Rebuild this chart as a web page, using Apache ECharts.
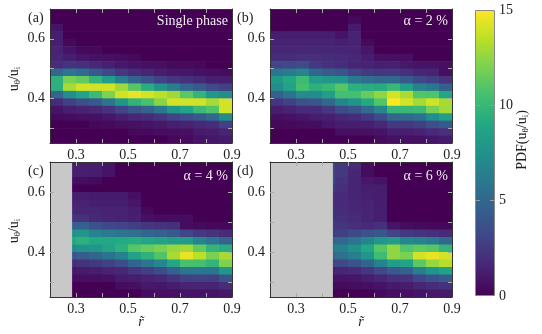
<!DOCTYPE html>
<html>
<head>
<meta charset="utf-8">
<script src="https://cdn.jsdelivr.net/npm/echarts@6/dist/echarts.min.js"></script>
<style>
html, body { margin: 0; padding: 0; background: #fff; }
#chart { width: 542px; height: 334px; }
</style>
</head>
<body>
<div id="chart"></div>
<script>
// bin centres of the PDF maps (x = r~, y = u_theta/u_i, top row first)
var xCenters = [0.225, 0.275, 0.325, 0.375, 0.425, 0.475, 0.525, 0.575, 0.625, 0.675, 0.725, 0.775, 0.825, 0.875];
var yCenters = [0.6875, 0.6625, 0.6375, 0.6125, 0.5875, 0.5625, 0.5375, 0.5125, 0.4875, 0.4625,
  0.4375, 0.4125, 0.3875, 0.3625, 0.3375, 0.3125, 0.2875, 0.2625];
var xBin = 0.05, yBin = 0.025;

// single phase
var pdfA = [
  [0, 0, 0, 0, 0, 0, 0, 0, 0, 0, 0, 0, 0, 0],
  [0, 0, 0, 0, 0, 0, 0, 0, 0, 0, 0, 0, 0, 0],
  [0.8, 0, 0, 0, 0, 0, 0, 0, 0, 0, 0, 0, 0, 0],
  [1.2, 0, 0, 0, 0, 0, 0, 0, 0, 0, 0, 0, 0, 0],
  [1.3, 0.3, 0, 0, 0, 0, 0, 0, 0, 0, 0, 0, 0, 0],
  [1.4, 0.8, 0.4, 0.3, 0, 0, 0, 0, 0, 0, 0, 0, 0, 0],
  [1.6, 1.3, 0.9, 0.7, 0.6, 0.5, 0.3, 0, 0, 0, 0, 0, 0, 0],
  [1.9, 2.2, 2.0, 1.7, 1.3, 1.0, 0.8, 0.7, 0.6, 0.4, 0.4, 0.3, 0, 0],
  [4.9, 5.8, 5.3, 4.2, 3.2, 2.4, 1.9, 1.6, 1.2, 1.0, 0.9, 0.7, 0.6, 0.5],
  [9.5, 11.9, 11.4, 9.8, 8.3, 6.3, 4.8, 3.8, 2.9, 2.4, 2.0, 1.7, 1.3, 1.2],
  [9.5, 13, 14, 14, 14, 12.8, 11, 9.3, 7.6, 6.3, 5.0, 4.2, 3.2, 2.8],
  [4.9, 7.3, 8.6, 10.1, 12.1, 14, 14.5, 14, 13.5, 12.8, 11.1, 9.8, 7.9, 7.3],
  [1.9, 2.8, 3.6, 4.2, 5.8, 7.9, 9.7, 10.6, 12.3, 14, 14, 14, 13, 14],
  [0.8, 1.2, 1.4, 1.7, 2.2, 3.0, 4.0, 4.7, 6.0, 7.9, 8.8, 10.1, 10.9, 14],
  [0.4, 0.5, 0.6, 0.7, 0.9, 1.3, 1.6, 1.8, 2.3, 3.0, 3.6, 4.2, 5.1, 7.3],
  [0, 0, 0, 0.3, 0.4, 0.6, 0.7, 0.8, 1.0, 1.3, 1.4, 1.7, 1.9, 2.8],
  [0, 0, 0, 0, 0, 0, 0.3, 0.4, 0.5, 0.6, 0.7, 1.1, 1.2, 1.5],
  [0, 0, 0, 0, 0, 0, 0, 0, 0, 0.3, 0.4, 0.8, 0.9, 1.1]
];

// alpha = 2 %
var pdfB = [
  [0, 0, 0, 0, 0, 0, 0, 0, 0, 0, 0, 0, 0, 0],
  [0, 0, 0, 0, 0, 0, 0.3, 0, 0, 0, 0, 0, 0, 0],
  [0, 0, 0, 0, 0, 0, 1.1, 0, 0, 0, 0, 0, 0, 0],
  [1.2, 1.3, 1.3, 1.3, 1.2, 0.8, 1.4, 0, 0, 0, 0, 0, 0, 0],
  [1.4, 1.4, 1.4, 1.4, 1.4, 1.3, 1.4, 0.4, 0, 0, 0, 0, 0, 0],
  [1.6, 1.6, 1.6, 1.6, 1.6, 1.5, 1.5, 0.9, 0, 0, 0, 0, 0, 0],
  [1.9, 1.9, 2.0, 2.0, 1.9, 1.8, 1.7, 1.2, 0.7, 0.6, 0.6, 0, 0, 0],
  [3.1, 3.2, 3.4, 2.5, 2.1, 1.9, 1.5, 1.4, 1.3, 1.3, 1.0, 0.8, 0.8, 0.6],
  [5.8, 6.2, 6.7, 5.0, 4.3, 4.0, 3.0, 2.6, 2.4, 2.5, 2.0, 1.6, 1.4, 0.6],
  [8.0, 9.0, 10.2, 8.2, 7.8, 7.7, 6.1, 5.4, 5.1, 5.1, 4.2, 3.2, 2.8, 2.2],
  [7.3, 8.7, 10.5, 9.5, 10, 11, 9.5, 9.3, 9.2, 10, 8.4, 6.6, 6.0, 4.5],
  [4.6, 5.7, 7.2, 7.2, 8.4, 10.5, 10.5, 11.5, 12.5, 14, 13.1, 10.9, 10.8, 8.8],
  [2.3, 2.9, 3.7, 4.0, 5.1, 6.8, 7.6, 9.1, 10.9, 15, 14, 13, 14, 13],
  [1.2, 1.4, 1.8, 1.8, 2.4, 3.4, 4.0, 5.2, 6.9, 10, 10, 10.1, 11.9, 12.9],
  [0.6, 0.7, 0.9, 1.2, 1.3, 1.7, 1.9, 2.5, 3.4, 5.1, 5.2, 5.6, 7.2, 8.5],
  [0.3, 0.4, 0.5, 0.5, 0.9, 1.2, 1.2, 1.3, 1.7, 2.5, 2.5, 2.8, 3.6, 4.2],
  [0, 0, 0, 0, 0, 0.6, 0.6, 0.7, 0.8, 1.3, 1.3, 1.4, 1.8, 2.1],
  [0, 0, 0, 0, 0, 0, 0, 0, 0.5, 0.7, 0.7, 0.7, 0.9, 1.1]
];

// alpha = 4 %
var pdfC = [
  [null, 1.2, 1.2, 1.2, 0.8, 0, 0, 0, 0, 0, 0, 0, 0, 0],
  [null, 1.2, 1.3, 1.2, 0.8, 0, 0, 0, 0, 0, 0, 0, 0, 0],
  [null, 0.5, 0.5, 0.4, 0, 0, 0, 0, 0, 0, 0, 0, 0, 0],
  [null, 0, 0, 0, 0, 0, 0, 0, 0, 0, 0, 0, 0, 0],
  [null, 1.2, 1.2, 1.1, 1.1, 1.1, 0.6, 0, 0, 0, 0, 0, 0, 0],
  [null, 1.4, 1.4, 1.3, 1.3, 1.3, 1.0, 0, 0, 0, 0, 0, 0, 0],
  [null, 1.7, 1.6, 1.5, 1.4, 1.4, 1.2, 0.3, 0, 0, 0, 0, 0, 0],
  [null, 2.2, 2.1, 1.7, 1.5, 1.4, 1.3, 0.7, 0.5, 0.5, 0.5, 0, 0, 0],
  [null, 4.5, 4.5, 3.7, 3.2, 3.0, 2.7, 2.4, 2.2, 2.0, 0.5, 0.4, 0.3, 0.3],
  [null, 7.5, 7.7, 6.6, 6.2, 5.8, 5.6, 5.0, 4.6, 4.2, 3.0, 2.5, 2.2, 1.8],
  [null, 9, 9.5, 9, 9, 9.1, 9.2, 8.9, 8.7, 8.3, 8.2, 6.8, 5.8, 4.8],
  [null, 7.0, 7.6, 7.8, 8.7, 9.5, 11, 11.5, 12, 12.6, 12.9, 11.3, 9.8, 9.3],
  [null, 3.9, 4.4, 5.0, 5.7, 6.6, 8.6, 9.6, 10.9, 13, 14.5, 13.5, 12, 13],
  [null, 1.9, 2.1, 2.5, 2.9, 3.5, 4.8, 5.8, 6.9, 8.9, 10.6, 10.5, 9.8, 12.1],
  [null, 1.0, 1.1, 1.2, 1.4, 1.7, 2.3, 2.8, 3.5, 4.6, 5.8, 5.9, 5.8, 7.8],
  [null, 0.5, 0.6, 0.6, 0.7, 1.1, 1.2, 1.4, 1.7, 2.2, 2.8, 2.9, 2.8, 3.9],
  [null, 0, 0, 0, 0, 0.5, 0.6, 1.0, 0.9, 1.2, 1.4, 1.5, 1.4, 1.9],
  [null, 0, 0, 0, 0, 0, 0, 0.5, 0.6, 0.6, 0.8, 0.8, 0.8, 1.0]
];

// alpha = 6 %
var pdfD = [
  [null, null, null, null, 3.2, 2.5, 1.8, 0.5, 0, 0, 0, 0, 0, 0],
  [null, null, null, null, 3.2, 2.5, 1.6, 0.5, 0, 0, 0, 0, 0, 0],
  [null, null, null, null, 3.2, 2.2, 1.5, 1.0, 0.8, 0, 0, 0, 0, 0],
  [null, null, null, null, 2.5, 2.0, 1.5, 1.2, 1.2, 0, 0, 0, 0, 0],
  [null, null, null, null, 2.0, 1.8, 1.5, 1.3, 1.2, 0, 0, 0, 0, 0],
  [null, null, null, null, 2.0, 1.8, 1.6, 1.4, 1.2, 0, 0, 0, 0, 0],
  [null, null, null, null, 2.0, 1.9, 1.7, 1.5, 1.3, 0, 0, 0, 0, 0],
  [null, null, null, null, 2.3, 2.0, 1.8, 1.5, 1.3, 0, 0, 0, 0, 0],
  [null, null, null, null, 2.6, 2.3, 2.0, 1.8, 2.0, 0.8, 0.5, 0.4, 0.3, 0.3],
  [null, null, null, null, 2.6, 2.8, 3.3, 3.8, 4.1, 3.0, 2.5, 2.2, 2.0, 1.8],
  [null, null, null, null, 4.7, 5.1, 5.8, 6.8, 7.9, 8.3, 6.9, 6.6, 6.1, 5.1],
  [null, null, null, null, 6, 6.5, 7.5, 9, 11, 12.5, 10.9, 11.3, 11, 9.8],
  [null, null, null, null, 5.0, 5.5, 6.3, 7.8, 10.3, 12.5, 12, 14, 14.5, 14],
  [null, null, null, null, 3.0, 3.3, 3.8, 4.8, 6.6, 8.3, 8.7, 11.2, 12.6, 13.4],
  [null, null, null, null, 1.5, 1.6, 1.8, 2.4, 3.3, 4.2, 4.6, 6.4, 7.7, 8.6],
  [null, null, null, null, 0.7, 0.8, 0.9, 1.2, 1.6, 2.0, 2.2, 3.1, 3.8, 4.4],
  [null, null, null, null, 0.4, 0.4, 0.5, 0.6, 0.8, 1.1, 1.2, 1.6, 1.9, 2.1],
  [null, null, null, null, 0, 0, 0, 0, 0.4, 0.6, 0.6, 0.8, 1.0, 1.1]
];

var panelTags = ["(a)", "(b)", "(c)", "(d)"];
var panelNotes = ["Single phase", "α = 2 %", "α = 4 %", "α = 6 %"];
var maskedTo = [null, null, 0.285, 0.442];   // no data for r~ below this
var xTickLabels = [0.3, 0.5, 0.7, 0.9];
var xTickMarks = [0.3, 0.4, 0.5, 0.6, 0.7, 0.8];
var yTickLabels = [0.4, 0.6];
var yTickMarks = [0.3, 0.4, 0.5, 0.6];
var cbarTicks = [0, 5, 10, 15];

var viridis = ["#440154", "#482475", "#414487", "#355f8d", "#2a788e", "#21918c",
  "#22a884", "#44bf70", "#7ad151", "#bddf26", "#fde725"];

var serif = "Liberation Serif";
var grids = [
  { left: 50, top: 9, width: 182, height: 134 },
  { left: 270, top: 9, width: 182, height: 134 },
  { left: 50, top: 162, width: 182, height: 135 },
  { left: 270, top: 162, width: 182, height: 135 }
];

function cellsOf(pdf) {
  var out = [];
  pdf.forEach(function (row, i) {
    row.forEach(function (v, j) {
      if (v !== null) out.push([xCenters[j], yCenters[i], v]);
    });
  });
  return out;
}

function renderCell(params, api) {
  var p0 = api.coord([api.value(0) - xBin / 2, api.value(1) + yBin / 2]);
  var p1 = api.coord([api.value(0) + xBin / 2, api.value(1) - yBin / 2]);
  return {
    type: "rect",
    shape: { x: p0[0], y: p0[1], width: p1[0] - p0[0] + 0.6, height: p1[1] - p0[1] + 0.6 },
    style: { fill: api.visual("color") }
  };
}

function renderMask(params, api) {
  var p0 = api.coord([api.value(0), 0.7]);
  var p1 = api.coord([api.value(1), 0.25]);
  return {
    type: "rect",
    shape: { x: p0[0], y: p0[1], width: p1[0] - p0[0], height: p1[1] - p0[1] },
    style: { fill: "#c8c8c8" }
  };
}

var tickStyle = { show: true, inside: true, length: 4, lineStyle: { color: "#aaaaaa" } };
var lineStyle = { show: true, lineStyle: { color: "#333", width: 1 } };
var labelStyle = { fontFamily: serif, fontSize: 14, color: "#222" };

var xAxes = [], yAxes = [], series = [], heatIdx = [];
[pdfA, pdfB, pdfC, pdfD].forEach(function (pdf, k) {
  ["bottom", "top"].forEach(function (pos) {
    xAxes.push({
      gridIndex: k, type: "value", position: pos, min: 0.2, max: 0.9, z: 5,
      axisLine: lineStyle, splitLine: { show: false },
      axisTick: Object.assign({ customValues: xTickMarks }, tickStyle),
      axisLabel: pos === "bottom" ? Object.assign({
        customValues: xTickLabels, margin: 5,
        formatter: function (v) { return v.toFixed(1); }
      }, labelStyle) : { show: false }
    });
  });
  ["left", "right"].forEach(function (pos) {
    yAxes.push({
      gridIndex: k, type: "value", position: pos, min: 0.25, max: 0.7, z: 5,
      axisLine: lineStyle, splitLine: { show: false },
      axisTick: Object.assign({ customValues: yTickMarks }, tickStyle),
      axisLabel: pos === "left" ? Object.assign({
        customValues: yTickLabels, margin: 5,
        formatter: function (v) { return v.toFixed(1); }
      }, labelStyle) : { show: false }
    });
  });
  heatIdx.push(series.length);
  series.push({
    type: "custom", xAxisIndex: 2 * k, yAxisIndex: 2 * k, clip: true,
    renderItem: renderCell, data: cellsOf(pdf), silent: true
  });
  series.push({
    type: "custom", xAxisIndex: 2 * k, yAxisIndex: 2 * k, clip: true,
    renderItem: renderMask, data: maskedTo[k] === null ? [] : [[0.2, maskedTo[k]]], silent: true
  });
});

// colour bar
grids.push({ left: 475, top: 10, width: 20, height: 286 });
xAxes.push({ gridIndex: 4, type: "category", data: ["pdf"], show: false });
yAxes.push({
  gridIndex: 4, type: "value", position: "right", min: 0, max: 15, z: 5,
  axisLine: { show: false }, splitLine: { show: false },
  axisTick: { show: true, inside: true, length: 5, customValues: [5, 10], lineStyle: { color: "#999" } },
  axisLabel: Object.assign({ customValues: cbarTicks, margin: 4 }, labelStyle)
});
yAxes.push({
  gridIndex: 4, type: "value", position: "left", min: 0, max: 15, z: 5,
  axisLine: { show: false }, splitLine: { show: false },
  axisTick: { show: true, inside: true, length: 5, customValues: [5, 10], lineStyle: { color: "#999" } },
  axisLabel: { show: false }
});
series.push({
  type: "bar", xAxisIndex: 8, yAxisIndex: 8, barWidth: "100%", data: [15], silent: true,
  itemStyle: {
    borderColor: "#888", borderWidth: 1,
    color: new echarts.graphic.LinearGradient(0, 1, 0, 0, viridis.map(function (c, i) {
      return { offset: i / (viridis.length - 1), color: c };
    }))
  }
});

var sub = {
  n: { font: "14px " + serif, lineHeight: 16, fill: "#222" },
  s: { font: "9px " + serif, lineHeight: 10, padding: [8, 0, 0, 0], fill: "#222" }
};
var ratio = "{n|u}{s|θ}{n|/u}{s|i}";
var graphics = [];
var tagPos = [[28, 18], [237, 18], [28, 171], [237, 171]];
var notePos = [[228, 21], [448, 21], [228, 176], [448, 176]];
panelTags.forEach(function (t, k) {
  graphics.push({ type: "text", x: tagPos[k][0], y: tagPos[k][1],
    style: { text: t, font: "14px " + serif, fill: "#222", verticalAlign: "middle" } });
  graphics.push({ type: "text", x: notePos[k][0], y: notePos[k][1], z: 10,
    style: { text: panelNotes[k], font: "14px " + serif, fill: "#eeeeee", align: "right", verticalAlign: "middle" } });
});
[79, 231].forEach(function (y) {
  graphics.push({ type: "text", x: 14, y: y, rotation: Math.PI / 2,
    style: { text: ratio, rich: sub, font: "14px " + serif, fill: "#222", align: "center", verticalAlign: "middle" } });
});
[141, 361].forEach(function (x) {
  graphics.push({ type: "text", x: x, y: 322,
    style: { text: "r\u0303", font: "italic 14px " + serif, fill: "#222", align: "center", verticalAlign: "middle" } });
});
graphics.push({ type: "text", x: 522, y: 140, rotation: Math.PI / 2,
  style: { text: "{n|PDF(u}{s|θ}{n|/u}{s|i}{n|)}", rich: sub, font: "14px " + serif, fill: "#222", align: "center", verticalAlign: "middle" } });

var chart = echarts.init(document.getElementById("chart"));
chart.setOption({
  animation: false,
  grid: grids,
  xAxis: xAxes,
  yAxis: yAxes,
  visualMap: {
    type: "continuous", show: false, min: 0, max: 15, dimension: 2,
    seriesIndex: heatIdx, inRange: { color: viridis }
  },
  graphic: graphics,
  series: series
});
</script>
</body>
</html>
